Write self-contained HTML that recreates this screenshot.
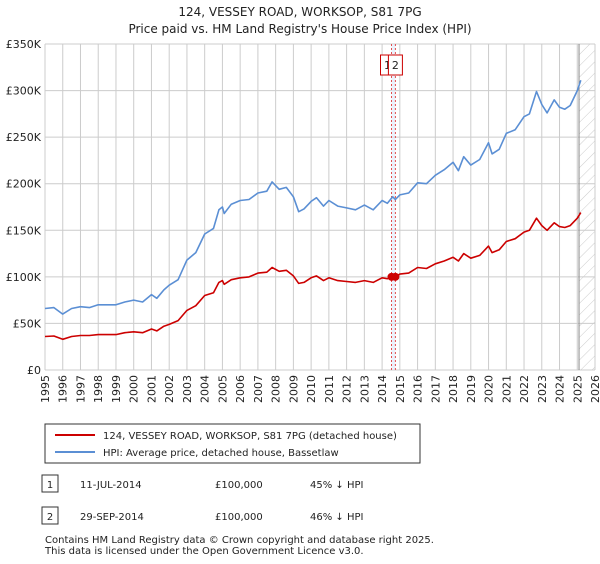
<!DOCTYPE html>
<html><head><meta charset="utf-8"><style>
body{margin:0;background:#fff;font-family:"DejaVu Sans","Liberation Sans",sans-serif;}
svg text{font-family:"DejaVu Sans","Liberation Sans",sans-serif;fill:#222;}
</style></head><body>
<svg width="600" height="560" viewBox="0 0 600 560" xmlns="http://www.w3.org/2000/svg">
<defs><pattern id="hatch" width="8" height="8" patternUnits="userSpaceOnUse" patternTransform="rotate(45)"><line x1="0" y1="0" x2="0" y2="8" stroke="#ccc" stroke-width="1"/></pattern></defs>
<text x="300" y="16" text-anchor="middle" font-size="12">124, VESSEY ROAD, WORKSOP, S81 7PG</text>
<text x="300" y="33" text-anchor="middle" font-size="12">Price paid vs. HM Land Registry's House Price Index (HPI)</text>
<g id="grid"></g>
<g id="plot"></g>
<g id="legend">
<rect x="45" y="424" width="375" height="39" fill="#fff" stroke="#333"/>
<line x1="55" y1="435" x2="95" y2="435" stroke="#cc0000" stroke-width="2"/>
<text x="103" y="439" font-size="10">124, VESSEY ROAD, WORKSOP, S81 7PG (detached house)</text>
<line x1="55" y1="452" x2="95" y2="452" stroke="#5b8fd4" stroke-width="2"/>
<text x="103" y="456" font-size="10">HPI: Average price, detached house, Bassetlaw</text>
</g>
<g>
<rect x="42" y="475" width="16" height="17" fill="#fff" stroke="#333"/><text x="50" y="488" font-size="10" text-anchor="middle">1</text>
<text x="80" y="488" font-size="10">11-JUL-2014</text><text x="215" y="488" font-size="10">£100,000</text><text x="310" y="488" font-size="10">45% ↓ HPI</text>
<rect x="42" y="507" width="16" height="17" fill="#fff" stroke="#333"/><text x="50" y="520" font-size="10" text-anchor="middle">2</text>
<text x="80" y="520" font-size="10">29-SEP-2014</text><text x="215" y="520" font-size="10">£100,000</text><text x="310" y="520" font-size="10">46% ↓ HPI</text>
</g>
<text x="45" y="543" font-size="10" fill="#444">Contains HM Land Registry data © Crown copyright and database right 2025.</text>
<text x="45" y="554" font-size="10" fill="#444">This data is licensed under the Open Government Licence v3.0.</text>
</svg>
<script>
const years=[1995,1995.5,1996,1996.5,1997,1997.5,1998,1998.5,1999,1999.5,2000,2000.5,2001,2001.3,2001.7,2002,2002.5,2003,2003.5,2004,2004.5,2004.8,2005,2005.1,2005.5,2006,2006.5,2007,2007.5,2007.8,2008.2,2008.6,2009,2009.3,2009.6,2010,2010.3,2010.7,2011,2011.5,2012,2012.5,2013,2013.5,2014,2014.3,2014.6,2014.75,2015,2015.5,2016,2016.5,2017,2017.5,2018,2018.3,2018.6,2019,2019.5,2020,2020.2,2020.6,2021,2021.5,2022,2022.3,2022.7,2023,2023.3,2023.7,2024,2024.3,2024.6,2025,2025.2];
const hpiValues=[66,67,60,66,68,67,70,70,70,73,75,73,81,77,86,91,97,118,126,146,152,172,175,168,178,182,183,190,192,202,194,196,186,170,173,181,185,176,182,176,174,172,177,172,182,179,186,183,188,190,201,200,209,215,223,214,229,220,226,244,232,237,254,258,272,275,299,285,276,290,282,280,284,300,311];
const priceValues=[36,36.5,33,36,37,37,38,38,38,40,41,40,44,42,47,49,53,64,69,80,83,94,96,92,97,99,100,104,105,110,106,107,101,93,94,99,101,96,99,96,95,94,96,94,99,98,101,100,103,104,110,109,114,117,121,117,125,120,123,133,126,129,138,141,148,150,163,155,150,158,154,153,155,163,169];
const saleYears=[2014.53,2014.75];
const saleValues=[100,100];
const saleLabels=["1","2"];
const yTicks=[0,50,100,150,200,250,300,350];
const yTickLabels=["£0","£50K","£100K","£150K","£200K","£250K","£300K","£350K"];
const xTicks=[1995,1996,1997,1998,1999,2000,2001,2002,2003,2004,2005,2006,2007,2008,2009,2010,2011,2012,2013,2014,2015,2016,2017,2018,2019,2020,2021,2022,2023,2024,2025,2026];
const X0=45,X1=595,Y0=370,Y1=44;
const x=v=>X0+(v-1995)/31*(X1-X0);
const y=v=>Y0-v/350*(Y0-Y1);
const NS="http://www.w3.org/2000/svg";
const grid=document.getElementById('grid'),plot=document.getElementById('plot');
function mk(tag,attrs,parent){const e=document.createElementNS(NS,tag);for(const k in attrs)e.setAttribute(k,attrs[k]);parent.appendChild(e);return e;}
let e;
e=mk('rect',{x:x(2025.1),y:Y1,width:X1-x(2025.1),height:Y0-Y1,fill:'url(#hatch)'},grid);


yTicks.forEach((t,i)=>{
 e=mk('line',{x1:X0,x2:X1,y1:y(t),y2:y(t),stroke:'#ccc'},grid);
 
 
 e=mk('text',{x:X0-4,y:y(t)+4,'text-anchor':'end','font-size':'11'},grid);e.textContent=yTickLabels[i];
 
 
});
xTicks.forEach(t=>{
 e=mk('line',{x1:x(t),x2:x(t),y1:Y1,y2:Y0,stroke:'#ccc'},grid);
 
 
 e=mk('text',{x:0,y:0,'text-anchor':'end','font-size':'11',transform:`translate(${x(t)+4},${Y0+5}) rotate(-90)`},grid);e.textContent=t;
 
 
});
e=mk('line',{x1:x(2025.1),x2:x(2025.1),y1:Y1,y2:Y0,stroke:'#888'},grid);


e=mk('rect',{x:x(saleYears[0]),y:Y1,width:x(saleYears[1])-x(saleYears[0]),height:Y0-Y1,fill:'#dde8f8',opacity:0.6},plot);


saleYears.forEach((s,i)=>{
 e=mk('line',{x1:x(s),x2:x(s),y1:Y1,y2:Y0,stroke:'#e05050','stroke-dasharray':'2,2'},plot);
 
 
});
const path=(vals,color,name)=>{
 e=mk('path',{d:years.map((yr,i)=>(i?'L':'M')+x(yr).toFixed(1)+','+y(vals[i]).toFixed(1)).join(''),fill:'none',stroke:color,'stroke-width':1.6,'stroke-linejoin':'round'},plot);
 
 
};
path(hpiValues,'#5b8fd4','hpi-line');
path(priceValues,'#cc0000','price-paid-line');
saleYears.forEach((s,i)=>{
 e=mk('circle',{cx:x(s),cy:y(saleValues[i]),r:4,fill:'#cc0000'},plot);
 
 
});
saleYears.forEach((s,i)=>{
 const bx=x(s)-(i===0?11:7);
 e=mk('rect',{x:bx,y:55,width:14,height:20,fill:'#fff',stroke:'#cc0000'},plot);
 
 
 e=mk('text',{x:bx+7,y:69,'text-anchor':'middle','font-size':'11'},plot);e.textContent=saleLabels[i];
 
 
});
</script>
</body></html>
